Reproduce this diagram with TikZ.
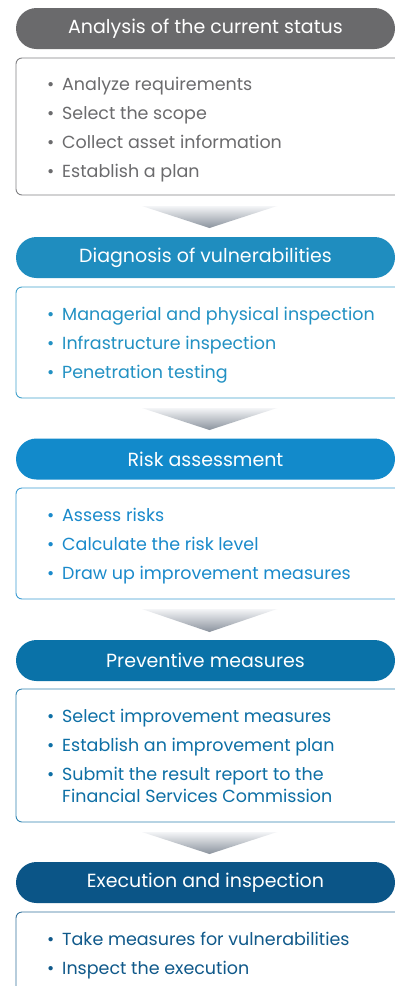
\documentclass[tikz,border=0pt]{standalone}
\usepackage{fontspec}
\setmainfont{Poppins}
\definecolor{cA}{HTML}{6A6A6C}
\definecolor{tA}{HTML}{6B6B6D}
\definecolor{cB}{HTML}{1F8DBF}
\definecolor{tB}{HTML}{2291C3}
\definecolor{cC}{HTML}{128ACB}
\definecolor{tC}{HTML}{1A8ACB}
\definecolor{cD}{HTML}{0A72A8}
\definecolor{tD}{HTML}{0D6FA5}
\definecolor{cE}{HTML}{0B5587}
\definecolor{tE}{HTML}{10598A}
\definecolor{chevtop}{HTML}{F4F5F7}
\definecolor{chevbot}{HTML}{8A929D}
\newcommand{\itmark}{\makebox[15pt][l]{•}}
\newcommand{\itgap}{\hspace*{15pt}}
\begin{document}
\begin{tikzpicture}[x=1pt,y=1pt,
  header/.style={rectangle, rounded corners=20.5pt, minimum width=379pt, minimum height=41pt,
    inner sep=0pt, text=white, font=\fontsize{19}{22}\selectfont},
  panel/.style={rectangle, rounded corners=6pt, minimum width=420pt, inner sep=0pt, line width=0.9pt},
  items/.style={anchor=base west, align=left, inner sep=0pt, font=\fontsize{17.5}{29}\selectfont},
  chev/.style={top color=chevtop, bottom color=chevbot}
]
\clip (0,0) rectangle (395,-986);
\fill[white] (0,0) rectangle (395,-986);
% headers
\node[header, fill=cA] (h1) at (205.5,-28.5) {Analysis of the current status};
\node[header, fill=cB] (h2) at (205.5,-257.5) {Diagnosis of vulnerabilities};
\node[header, fill=cC] (h3) at (205.5,-459) {Risk assessment};
\node[header, fill=cD] (h4) at (205.5,-660.5) {Preventive measures};
\node[header, fill=cE] (h5) at (205.5,-882.5) {Execution and inspection};
% panels
\node[panel, draw=tA!85, minimum height=137pt] (b1) at (226,-126.5) {};
\node[panel, draw=tB!85, minimum height=111pt] (b2) at (226,-342.5) {};
\node[panel, draw=tC!85, minimum height=111pt] (b3) at (226,-543.5) {};
\node[panel, draw=tD!85, minimum height=133pt] (b4) at (226,-755.5) {};
\node[panel, draw=tE!85, minimum height=160pt] (b5) at (226,-992) {};
% items (anchored at baseline of last line)
\node[items, text=tA] (t1) at (47,-177) {\itmark Analyze requirements\\\itmark Select the scope\\\itmark Collect asset information\\\itmark Establish a plan};
\node[items, text=tB] (t2) at (47,-378) {\itmark Managerial and physical inspection\\\itmark Infrastructure inspection\\\itmark Penetration testing};
\node[items, text=tC] (t3) at (47,-579) {\itmark Assess risks\\\itmark Calculate the risk level\\\itmark Draw up improvement measures};
\node[items, text=tD] (t4) at (47,-802) {\itmark Select improvement measures\\\itmark Establish an improvement plan\\\itmark Submit the result report to the\\[-7pt]\itgap Financial Services Commission};
\node[items, text=tE] (t5) at (47,-974) {\itmark Take measures for vulnerabilities\\\itmark Inspect the execution};
% chevrons
\shade[chev] (142,-206) -- (277,-206) -- (209.5,-228) -- cycle;
\shade[chev] (142,-408) -- (277,-408) -- (209.5,-430) -- cycle;
\shade[chev] (142,-609) -- (277,-609) -- (209.5,-632) -- cycle;
\shade[chev] (142,-832) -- (277,-832) -- (209.5,-854) -- cycle;
\end{tikzpicture}
\end{document}
